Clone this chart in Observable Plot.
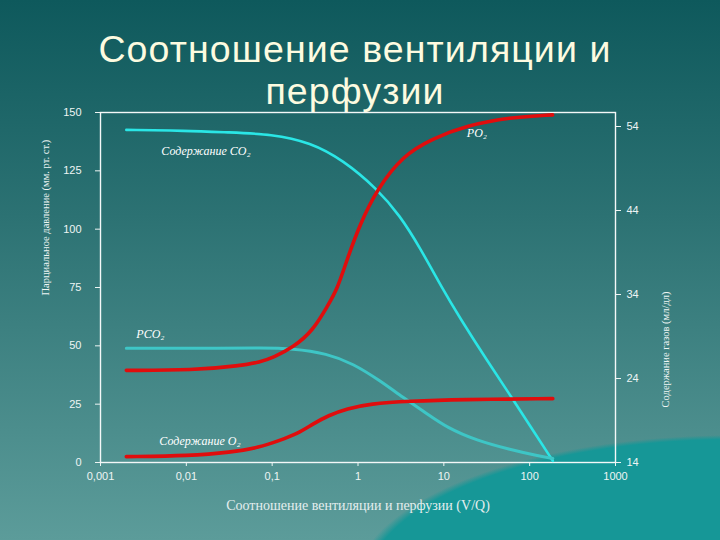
<!DOCTYPE html>
<html>
<head>
<meta charset="utf-8">
<script src="https://cdn.jsdelivr.net/npm/d3@7"></script>
<script src="https://cdn.jsdelivr.net/npm/@observablehq/plot@0.6"></script>
<style>
html, body { margin: 0; padding: 0; }
body {
  width: 720px; height: 540px; overflow: hidden; position: relative;
  background:
    radial-gradient(ellipse 380px 150px at 735px 585px, #169797 97%, rgba(22,151,151,0) 100%),
    linear-gradient(to bottom, #0e595c 0%, #2c7273 40%, #5c9c9a 100%);
  font-family: "Liberation Sans", Arial, sans-serif;
}
#chart { position: absolute; left: 0; top: 0; }
.title {
  position: absolute; left: 0; width: 710px; text-align: center;
  color: #fdfbe0; font-size: 37.5px; line-height: 42px; letter-spacing: 1.1px;
  font-family: "Liberation Sans", Arial, sans-serif; white-space: nowrap;
}
#t1 { top: 28px; }
#t2 { top: 70px; }
</style>
</head>
<body>
<div id="chart"></div>
<div class="title" id="t1">Соотношение вентиляции и</div>
<div class="title" id="t2">перфузии</div>
<script>
// ---- data ----
const xTicks = [0.001, 0.01, 0.1, 1, 10, 100, 1000];
const leftTicks = [0, 25, 50, 75, 100, 125, 150];
const rightTicks = [14, 24, 34, 44, 54];

// PO2 (left axis, mm Hg)
const vqPO2 = [0.002, 0.012, 0.0425, 0.072, 0.103, 0.175, 0.30, 0.44, 0.57, 0.745, 1.05, 1.66, 3.33, 7.45, 18.5, 58.5, 185];
const po2   = [39.5, 39.5, 41.5, 43, 45, 49.3, 56.6, 67, 74, 87, 102, 117, 131.6, 138.9, 144.4, 147.9, 149];

// PCO2 (left axis, mm Hg)
const vqPCO2 = [0.002, 0.03, 0.07, 0.175, 0.436, 0.875, 1.8, 3.33, 6.34, 10.8, 24.2, 58.6, 120, 186];
const pco2   = [49, 49, 49.1, 48.9, 46.7, 42.4, 35.1, 27.9, 21, 15, 9.4, 5.6, 3, 1.7];

// CO2 content (right axis, ml/dl)
const vqCCO2 = [0.002, 0.01, 0.03, 0.1, 0.28, 0.67, 1.66, 3.08, 5.26, 9.5, 15.4, 31.6, 58.6, 108, 186];
const cco2   = [53.6, 53.5, 53.3, 53.1, 52.1, 50.0, 46.6, 43.4, 39.6, 34.8, 31.2, 26.2, 22.1, 17.9, 14.2];

// O2 content (right axis, ml/dl)
const vqCO2 = [0.002, 0.011, 0.0325, 0.072, 0.12, 0.195, 0.30, 0.45, 0.745, 1.38, 4.0, 15.4, 186];
const co2   = [14.7, 14.8, 15.2, 15.8, 16.6, 17.4, 18.6, 19.6, 20.4, 21.0, 21.3, 21.5, 21.6];

const labelPO2 = "PO₂";
const labelPCO2 = "PCO₂";
const labelCCO2 = "Содержание CO₂";
const labelCO2 = "Содержание O₂";
const xLabel = "Соотношение вентиляции и перфузии (V/Q)";
const yLabel = "Парциальное давление (мм. рт. ст.)";
const y2Label = "Содержание газов (мл/дл)";

// right axis (14..55.67) mapped onto left axis (0..150)
const RIGHT_BASE = 14, RIGHT_K = 3.6;
const toLeft = v => (v - RIGHT_BASE) * RIGHT_K;
const fromLeft = v => v / RIGHT_K + RIGHT_BASE;

const rows = (xs, ys, conv = d => d) => xs.map((x, i) => ({x, y: conv(ys[i])}));
const dPO2 = rows(vqPO2, po2);
const dPCO2 = rows(vqPCO2, pco2);
const dCCO2 = rows(vqCCO2, cco2, toLeft);
const dCO2 = rows(vqCO2, co2, toLeft);

const textColor = "#eef5f4";
const serif = "'Liberation Serif', 'DejaVu Serif', serif";

const chart = Plot.plot({
  width: 720, height: 540,
  marginLeft: 100, marginRight: 105, marginTop: 112, marginBottom: 78,
  style: {background: "transparent", color: textColor, fontFamily: "'Liberation Sans', Arial, sans-serif", fontSize: "11px"},
  x: {type: "log", domain: [0.001, 1000]},
  y: {domain: [0, 150]},
  marks: [
    Plot.axisX({ticks: xTicks, tickFormat: d => String(d).replace(".", ","), tickSize: 4, tickPadding: 6, label: null, fontSize: 11}),
    Plot.axisY({ticks: leftTicks, tickSize: 5, tickPadding: 14, label: null, fontSize: 11}),
    Plot.axisY({anchor: "right", ticks: rightTicks.map(toLeft), tickFormat: d => String(Math.round(fromLeft(d))), tickSize: 5, tickPadding: 6, label: null, fontSize: 11}),
    Plot.frame({stroke: "#f4f8f8", strokeWidth: 1.4}),
    Plot.line(dCCO2, {x: "x", y: "y", stroke: "#2ae6e6", strokeWidth: 2.6, curve: "basis"}),
    Plot.line(dPCO2, {x: "x", y: "y", stroke: "#3ec6c6", strokeWidth: 3, curve: "basis"}),
    Plot.line(dPO2, {x: "x", y: "y", stroke: "#e00d0d", strokeWidth: 3.6, curve: "basis"}),
    Plot.line(dCO2, {x: "x", y: "y", stroke: "#e00d0d", strokeWidth: 3.6, curve: "basis"}),
    // in-chart labels anchored on series points
    Plot.text([dPCO2[0]], {x: "x", y: "y", text: () => labelPCO2, dx: 10, dy: -14, textAnchor: "start", fill: "white", fontStyle: "italic", fontFamily: serif, fontSize: 12}),
    Plot.text([dCO2[0]], {x: "x", y: "y", text: () => labelCO2, dx: 33, dy: -15, textAnchor: "start", fill: "white", fontStyle: "italic", fontFamily: serif, fontSize: 12}),
    Plot.text([dCCO2[0]], {x: "x", y: "y", text: () => labelCCO2, dx: 35, dy: 21, textAnchor: "start", fill: "white", fontStyle: "italic", fontFamily: serif, fontSize: 12}),
    Plot.text([dPO2[13]], {x: "x", y: "y", text: () => labelPO2, dx: 34, dy: -5, textAnchor: "start", fill: "white", fontStyle: "italic", fontFamily: serif, fontSize: 12}),
    // axis titles
    Plot.text([xLabel], {frameAnchor: "bottom", dy: 47, text: d => d, fill: "#e4eeee", fontFamily: serif, fontSize: 14}),
    Plot.text([yLabel], {frameAnchor: "left", dx: -55, dy: 8, rotate: -90, text: d => d, fill: textColor, fontFamily: serif, fontSize: 10.5}),
    Plot.text([y2Label], {frameAnchor: "right", dx: 50, dy: 4, rotate: -90, text: d => d, fill: textColor, fontFamily: serif, fontSize: 10.5})
  ]
});
document.getElementById("chart").appendChild(chart);
</script>
</body>
</html>
